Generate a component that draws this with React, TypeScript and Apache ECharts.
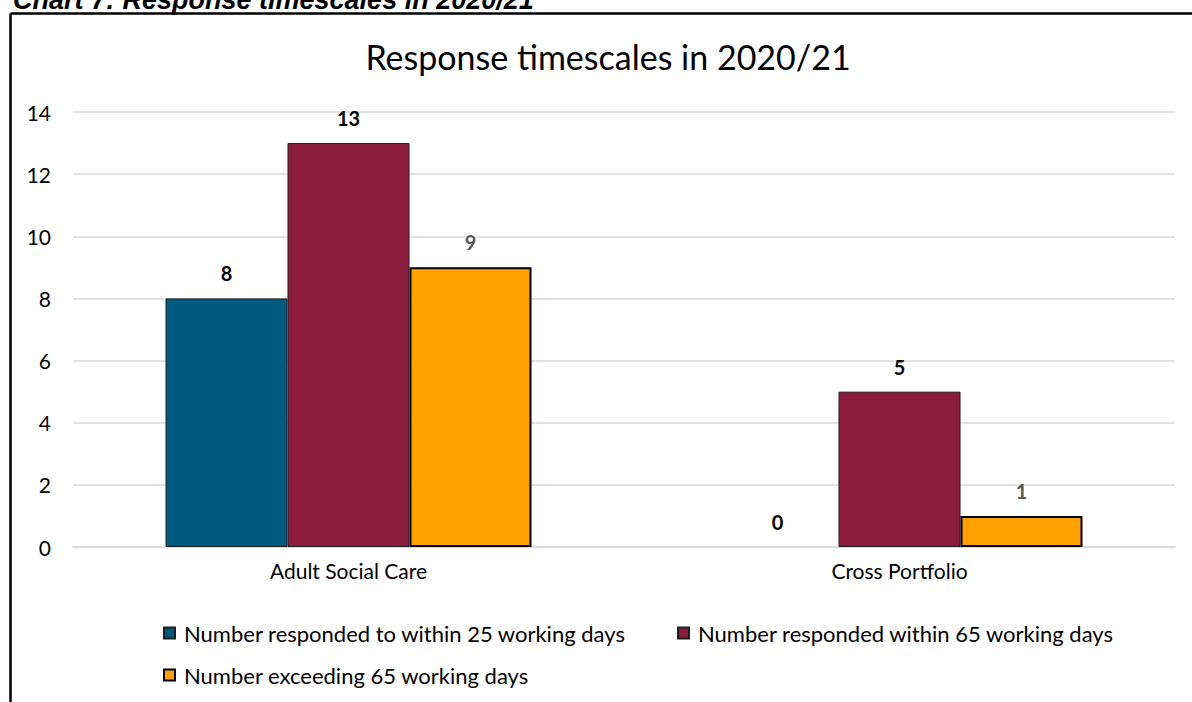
import React, { useEffect, useRef } from "react";
import * as echarts from "echarts";

const categories = ["Adult Social Care", "Cross Portfolio"];
const seriesNames = [
  "Number responded to within 25 working days",
  "Number responded within 65 working days",
  "Number exceeding 65 working days",
];
const within25 = [8, 0];
const within65 = [13, 5];
const exceeding65 = [9, 1];
const yMin = 0;
const yMax = 14;
const yInterval = 2;

const chartTitle = "Response timescales in 2020/21";
const caption = "Chart 7: Response timescales in 2020/21";

const FONT = "Lato";

const withZeroNoBorder = (arr: number[]) =>
  arr.map((v) => (v === 0 ? { value: v, itemStyle: { borderWidth: 0 } } : v));

export default function App() {
  const ref = useRef<HTMLDivElement>(null);
  useEffect(() => {
    const chart = echarts.init(ref.current!, null, { renderer: "svg" });
    const labelBase = {
      show: true,
      position: "top" as const,
      distance: 15,
      fontFamily: FONT,
      fontWeight: "bold" as const,
      fontSize: 20,
      lineHeight: 20,
    };
    const legendText = {
      fontFamily: FONT,
      fontSize: 22,
      lineHeight: 22,
      color: "#000",
      padding: [0, 0, 0, 4],
    };
    const legendCommon = {
      padding: 0,
      itemWidth: 11,
      itemHeight: 11,
      icon: "rect",
      textStyle: legendText,
    };
    const option = {
      animation: false,
      backgroundColor: "#fff",
      graphic: [
        {
          type: "line",
          shape: { x1: 10.5, y1: 13.5, x2: 1200, y2: 13.5 },
          style: { stroke: "#000", lineWidth: 2.5 },
        },
        {
          type: "line",
          shape: { x1: 10.5, y1: 13.5, x2: 10.5, y2: 710 },
          style: { stroke: "#000", lineWidth: 2.5 },
        },
        {
          type: "text",
          x: 13,
          y: 0,
          style: {
            text: caption,
            fontFamily: "Liberation Sans",
            fontWeight: "bold",
            fontStyle: "italic",
            fontSize: 27,
            fill: "#000",
            textVerticalAlign: "middle",
          },
        },
        {
          type: "text",
          x: 608,
          y: 56,
          style: {
            text: chartTitle,
            fontFamily: FONT,
            fontSize: 34,
            fill: "#000",
            textAlign: "center",
            textVerticalAlign: "middle",
          },
        },
      ],
      legend: [
        { ...legendCommon, data: [seriesNames[0]], left: 163, top: 622 },
        { ...legendCommon, data: [seriesNames[1]], left: 677, top: 622 },
        { ...legendCommon, data: [seriesNames[2]], left: 163, top: 664 },
      ],
      grid: { left: 73, right: 17, top: 112, bottom: 155, containLabel: false },
      xAxis: {
        type: "category",
        data: categories,
        axisLine: { show: true, lineStyle: { color: "#d9d9d9", width: 1.5 } },
        axisTick: { show: false },
        axisLabel: { fontFamily: FONT, fontSize: 21, color: "#000", margin: 13 },
      },
      yAxis: {
        type: "value",
        min: yMin,
        max: yMax,
        interval: yInterval,
        axisLine: { show: false },
        axisTick: { show: false },
        splitLine: { lineStyle: { color: "#d9d9d9", width: 1.5 } },
        axisLabel: { fontFamily: FONT, fontSize: 21, color: "#000", margin: 22 },
      },
      series: [
        {
          name: seriesNames[0],
          type: "bar",
          data: withZeroNoBorder(within25),
          barWidth: 122,
          barGap: "0%",
          itemStyle: { color: "#005A80", borderColor: "#1f1f1f", borderWidth: 1 },
          label: { ...labelBase, color: "#000" },
        },
        {
          name: seriesNames[1],
          type: "bar",
          data: withZeroNoBorder(within65),
          barWidth: 122,
          barGap: "0%",
          itemStyle: { color: "#8C1C3E", borderColor: "#1f1f1f", borderWidth: 1 },
          label: { ...labelBase, color: "#000" },
        },
        {
          name: seriesNames[2],
          type: "bar",
          data: withZeroNoBorder(exceeding65),
          barWidth: 122,
          barGap: "0%",
          itemStyle: { color: "#FFA100", borderColor: "#000", borderWidth: 2 },
          label: { ...labelBase, color: "#595959" },
        },
      ],
    };
    chart.setOption(option as any);
    return () => chart.dispose();
  }, []);
  return (
    <div
      style={{
        position: "fixed",
        left: 0,
        top: 0,
        width: 1192,
        height: 702,
        background: "#fff",
        overflow: "hidden",
      }}
    >
      <div ref={ref} style={{ width: 1192, height: 702 }} />
    </div>
  );
}
